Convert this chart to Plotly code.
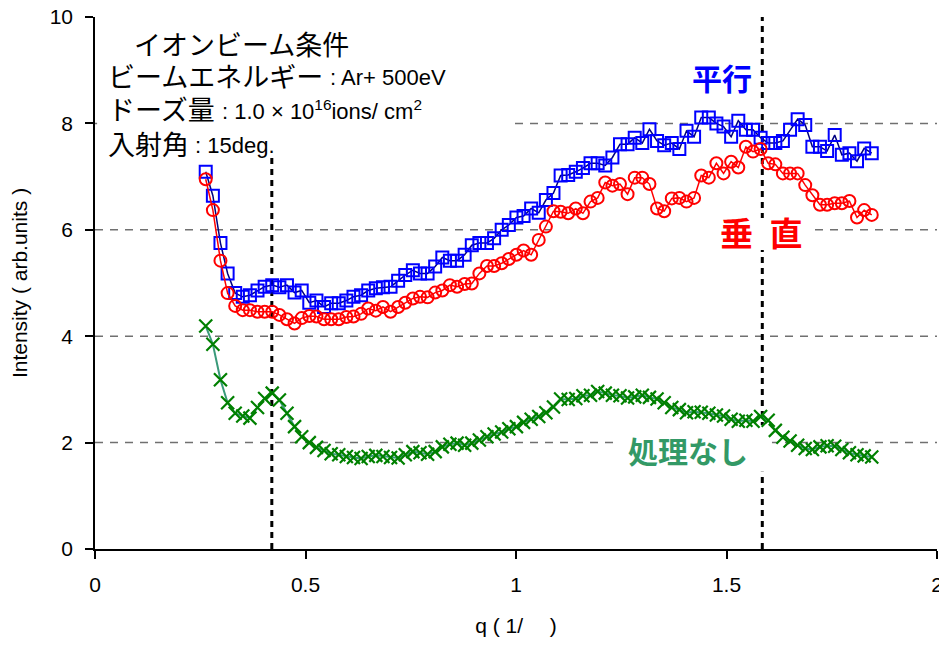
import plotly.graph_objects as go

# ---- data ----
q = [0.263, 0.280, 0.298, 0.315, 0.333, 0.351, 0.368, 0.386, 0.403, 0.421,
     0.438, 0.456, 0.474, 0.491, 0.509, 0.526, 0.544, 0.561, 0.579, 0.597,
     0.614, 0.632, 0.649, 0.667, 0.684, 0.702, 0.720, 0.737, 0.755, 0.772,
     0.790, 0.808, 0.825, 0.843, 0.860, 0.878, 0.895, 0.913, 0.931, 0.948,
     0.966, 0.983, 1.001, 1.018, 1.036, 1.054, 1.071, 1.089, 1.106, 1.124,
     1.142, 1.159, 1.177, 1.194, 1.212, 1.229, 1.247, 1.265, 1.282, 1.300,
     1.317, 1.335, 1.352, 1.370, 1.388, 1.405, 1.423, 1.440, 1.458, 1.476,
     1.493, 1.511, 1.528, 1.546, 1.563, 1.581, 1.599, 1.616, 1.634, 1.651,
     1.669, 1.687, 1.704, 1.722, 1.739, 1.757, 1.774, 1.792, 1.810, 1.827,
     1.845]

parallel = [7.09, 6.64, 5.75, 5.18, 4.81, 4.74, 4.77, 4.86, 4.93, 4.96,
            4.92, 4.96, 4.82, 4.86, 4.63, 4.67, 4.55, 4.62, 4.62, 4.67,
            4.74, 4.77, 4.86, 4.90, 4.92, 4.93, 5.04, 5.15, 5.24, 5.18,
            5.18, 5.31, 5.48, 5.42, 5.42, 5.53, 5.71, 5.75, 5.75, 5.84,
            6.00, 6.09, 6.23, 6.26, 6.40, 6.32, 6.56, 6.69, 7.02, 7.03,
            7.09, 7.16, 7.25, 7.25, 7.21, 7.36, 7.61, 7.61, 7.73, 7.63,
            7.89, 7.67, 7.59, 7.63, 7.52, 7.86, 7.75, 8.11, 8.11, 8.00,
            7.94, 7.75, 8.05, 7.88, 7.88, 7.73, 7.63, 7.63, 7.67, 7.88,
            8.08, 7.97, 7.56, 7.56, 7.48, 7.78, 7.41, 7.44, 7.29, 7.53,
            7.44]

perpendicular = [6.95, 6.37, 5.42, 4.81, 4.57, 4.49, 4.49, 4.46, 4.46, 4.46,
                 4.40, 4.32, 4.24, 4.34, 4.38, 4.37, 4.32, 4.32, 4.32, 4.36,
                 4.37, 4.42, 4.52, 4.48, 4.55, 4.46, 4.55, 4.63, 4.71, 4.74,
                 4.73, 4.82, 4.86, 4.96, 4.93, 4.98, 4.99, 5.18, 5.32, 5.32,
                 5.37, 5.45, 5.53, 5.61, 5.53, 5.81, 6.06, 6.35, 6.34, 6.31,
                 6.40, 6.31, 6.53, 6.60, 6.89, 6.83, 6.86, 6.67, 6.98, 6.98,
                 6.86, 6.40, 6.35, 6.59, 6.60, 6.53, 6.60, 7.02, 6.98, 7.25,
                 7.06, 7.28, 7.17, 7.56, 7.47, 7.52, 7.25, 7.23, 7.06, 7.06,
                 7.06, 6.84, 6.65, 6.47, 6.47, 6.50, 6.50, 6.54, 6.23, 6.37,
                 6.28]

untreated = [4.19, 3.85, 3.18, 2.75, 2.55, 2.50, 2.46, 2.66, 2.83, 2.93,
             2.80, 2.55, 2.30, 2.11, 2.00, 1.91, 1.85, 1.79, 1.77, 1.74,
             1.72, 1.70, 1.74, 1.76, 1.74, 1.72, 1.71, 1.77, 1.83, 1.81,
             1.78, 1.83, 1.92, 1.97, 1.99, 1.95, 1.99, 2.05, 2.11, 2.16,
             2.20, 2.26, 2.30, 2.38, 2.44, 2.49, 2.56, 2.67, 2.82, 2.81,
             2.83, 2.88, 2.89, 2.96, 2.93, 2.89, 2.88, 2.84, 2.86, 2.89,
             2.85, 2.82, 2.75, 2.66, 2.62, 2.56, 2.58, 2.57, 2.55, 2.52,
             2.50, 2.44, 2.40, 2.42, 2.40, 2.49, 2.42, 2.23, 2.10, 2.03,
             1.95, 1.89, 1.87, 1.92, 1.94, 1.93, 1.87, 1.81, 1.77, 1.75,
             1.73]

grid_y = [2, 4, 6, 8]
vlines_q = [0.42, 1.585]

x_ticks = [0, 0.5, 1, 1.5, 2]
x_ticktext = ["0", "0.5", "1", "1.5", "2"]
y_ticks = [0, 2, 4, 6, 8, 10]

FONT = "Liberation Sans, Arial, Noto Sans CJK JP, sans-serif"
CJK = "Noto Sans CJK JP, Liberation Sans, sans-serif"

fig = go.Figure()

fig.add_trace(go.Scatter(
    x=q, y=parallel, mode="lines+markers", name="平行",
    line=dict(color="#000080", width=1.5),
    marker=dict(symbol="square-open", size=12, color="#0000FF",
                line=dict(color="#0000FF", width=2)),
))
fig.add_trace(go.Scatter(
    x=q, y=perpendicular, mode="lines+markers", name="垂直",
    line=dict(color="#FF0000", width=1.5),
    marker=dict(symbol="circle-open", size=12, color="#FF0000",
                line=dict(color="#FF0000", width=2)),
))
fig.add_trace(go.Scatter(
    x=q, y=untreated, mode="lines+markers", name="処理なし",
    line=dict(color="#3A9A7A", width=2),
    marker=dict(symbol="x-thin", size=13, color="#008000",
                line=dict(color="#008000", width=2.2)),
))

shapes = []
for gy in grid_y:
    shapes.append(dict(type="line", xref="paper", yref="y", x0=0, x1=1,
                       y0=gy, y1=gy, layer="between",
                       line=dict(color="#707070", width=1.5, dash="8px,7px")))
for vx in vlines_q:
    shapes.append(dict(type="line", xref="x", yref="y", x0=vx, x1=vx,
                       y0=0, y1=10, layer="between",
                       line=dict(color="black", width=3, dash="6px,5px")))
# white text-box backgrounds (under the data, over the grid)
boxes = [(0.005, 0.99, 7.37, 10.0), (1.081, 1.703, 5.62, 6.22), (1.235, 1.608, 1.45, 2.33)]
for x0, x1, y0, y1 in boxes:
    shapes.append(dict(type="rect", xref="x", yref="y", x0=x0, x1=x1,
                       y0=y0, y1=y1, layer="between",
                       fillcolor="white", line=dict(width=0)))

# text box: Japanese parts (27px) and Latin parts (22px) as separate texts
cjk_parts = [
    (0.088, 9.50, "イオンビーム条件"),
    (0.027, 8.90, "ビームエネルギー"),
    (0.027, 8.28, "ドーズ量"),
    (0.027, 7.62, "入射角"),
]
latin_parts = [
    (0.553, 8.90, ": Ar+ 500eV"),
    (0.297, 8.28, ": 1.0 × 10<sup>16</sup>ions/ cm<sup>2</sup>"),
    (0.233, 7.62, ": 15deg."),
]
annotations = []
for x, y, t in cjk_parts:
    annotations.append(dict(x=x, y=y, text=t, xref="x", yref="y", xanchor="left",
                            yanchor="middle", showarrow=False,
                            font=dict(family=CJK, size=27, color="black")))
for x, y, t in latin_parts:
    annotations.append(dict(x=x, y=y - 0.03, text=t, xref="x", yref="y", xanchor="left",
                            yanchor="middle", showarrow=False,
                            font=dict(family=FONT, size=22, color="black")))

labels = [
    dict(x=1.489, y=8.87, text="<b>平行</b>", font=dict(family=CJK, size=30, color="#0000FF")),
    dict(x=1.584, y=5.96, text="<b>垂\u2002直</b>", font=dict(family=CJK, size=33, color="#FF0000")),
    dict(x=1.409, y=1.86, text="<b>処理なし</b>", font=dict(family=CJK, size=30, color="#339966")),
]
for a in labels:
    a.update(xref="x", yref="y", xanchor="center", yanchor="middle", showarrow=False)

# the page adds an 8px body margin, so the figure is 8px smaller and margins shifted
fig.update_layout(
    width=939, height=637, autosize=False,
    margin=dict(l=87, r=10, t=9, b=96, autoexpand=False),
    paper_bgcolor="white", plot_bgcolor="white",
    showlegend=False,
    font=dict(family=FONT, size=21, color="black"),
    shapes=shapes,
    annotations=annotations + labels,
)
fig.update_xaxes(
    range=[0, 2], tickvals=x_ticks, ticktext=x_ticktext,
    showgrid=False, zeroline=False, automargin=False,
    showline=True, linecolor="black", linewidth=1.5,
    ticks="outside", ticklen=8, tickwidth=1.5, tickcolor="black",
    ticklabelstandoff=8, ticklabeloverflow="allow",
    tickfont=dict(size=21),
    title=dict(text="q ( 1/　 )", font=dict(size=21), standoff=23),
)
fig.update_yaxes(
    range=[0, 10], tickvals=y_ticks,
    showgrid=False, zeroline=False, automargin=False,
    showline=True, linecolor="black", linewidth=1.5,
    ticks="outside", ticklen=8, tickwidth=1.5, tickcolor="black",
    ticklabelstandoff=8, ticklabeloverflow="allow",
    tickfont=dict(size=21),
    title=dict(text="Intensity ( arb.units )", font=dict(size=21), standoff=26),
)

fig.write_html("out.html")
